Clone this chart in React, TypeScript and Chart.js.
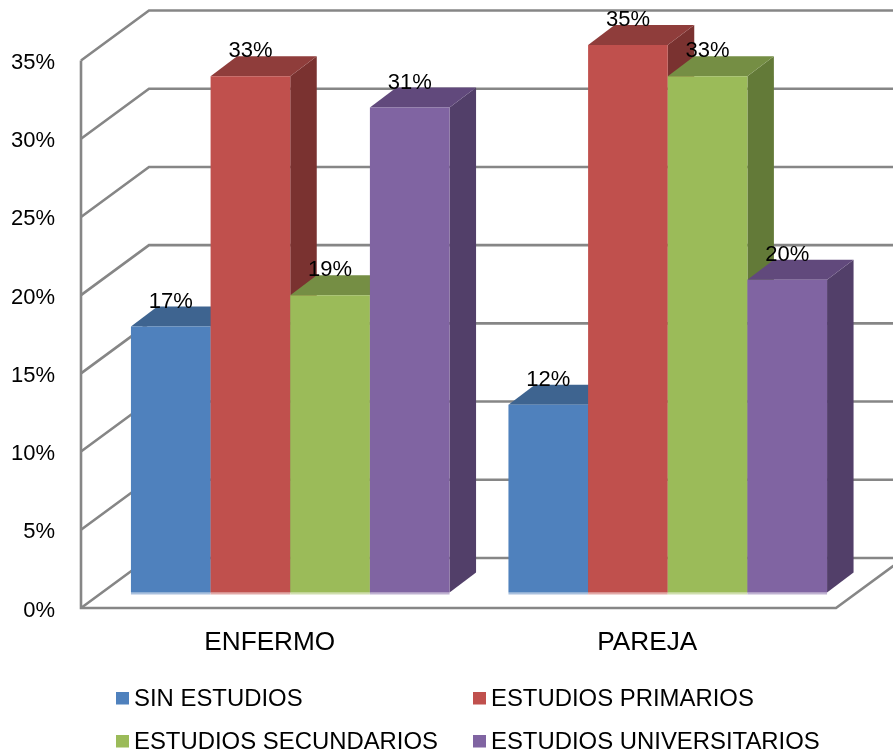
import React, { useEffect, useRef } from "react";
import { Chart, registerables } from "chart.js";

Chart.register(...registerables);

const categories = ["ENFERMO", "PAREJA"];
const seriesNames = [
  "SIN ESTUDIOS",
  "ESTUDIOS PRIMARIOS",
  "ESTUDIOS SECUNDARIOS",
  "ESTUDIOS UNIVERSITARIOS",
];
const sinEstudios = [17, 12];
const primarios = [33, 35];
const secundarios = [19, 33];
const universitarios = [31, 20];
const seriesValues = [sinEstudios, primarios, secundarios, universitarios];

const frontColors = ["#4F81BD", "#C0504D", "#9BBB59", "#8064A2"];
const topColors = ["#3E6490", "#8F3D3B", "#758E44", "#61497C"];
const sideColors = ["#345479", "#7A3230", "#637A38", "#523F69"];
const stripColors = ["#A9C0DE", "#E2A9A7", "#CFDEAD", "#BFB2D1"];

const FONT = "'Liberation Sans', Arial, sans-serif";
const GRID = "#868686";

// Depth of the room and of the bars, and where the bars stand on the floor.
const WALL_DX = 68;
const WALL_DY = 50;
const BAR_DX = 26.5;
const BAR_DY = 20;
const FLOOR_DX = 20.5;
const FLOOR_DY = 15.5;

const drawRoom = (chart: any) => {
  const { ctx, chartArea, scales, width } = chart;
  const { left, right, bottom } = chartArea;
  const y = scales.y;
  ctx.save();
  ctx.strokeStyle = GRID;
  ctx.lineWidth = 2.6;
  ctx.lineJoin = "miter";
  for (const tick of y.ticks) {
    const py = y.getPixelForValue(tick.value);
    ctx.beginPath();
    ctx.moveTo(left, py);
    ctx.lineTo(left + WALL_DX, py - WALL_DY);
    ctx.lineTo(width, py - WALL_DY);
    ctx.stroke();
  }
  ctx.beginPath();
  ctx.moveTo(left, y.getPixelForValue(y.max));
  ctx.lineTo(left, bottom);
  ctx.lineTo(right, bottom);
  ctx.lineTo(right + WALL_DX, bottom - WALL_DY);
  ctx.stroke();
  ctx.restore();
};

const polygon = (ctx: any, pts: number[][], fill: string) => {
  ctx.fillStyle = fill;
  ctx.beginPath();
  pts.forEach(([x, y], i) => (i ? ctx.lineTo(x, y) : ctx.moveTo(x, y)));
  ctx.closePath();
  ctx.fill();
};

const bars3d = {
  id: "bars3d",
  // Painted left to right so each front face covers its neighbour's side.
  beforeDatasetsDraw(chart: any) {
    const { ctx } = chart;
    drawRoom(chart);
    ctx.save();
    ctx.translate(FLOOR_DX, -FLOOR_DY);
    chart.data.datasets.forEach((_: any, i: number) => {
      const meta = chart.getDatasetMeta(i);
      meta.data.forEach((bar: any) => {
        const { x, y, base, width } = bar.getProps(["x", "y", "base", "width"]);
        const l = x - width / 2;
        const r = x + width / 2;
        polygon(ctx, [[r, y], [r + BAR_DX, y - BAR_DY], [r + BAR_DX, base - BAR_DY], [r, base]], sideColors[i]);
        polygon(ctx, [[l, y], [l + BAR_DX, y - BAR_DY], [r + BAR_DX, y - BAR_DY], [r, y]], topColors[i]);
        ctx.fillStyle = stripColors[i];
        ctx.fillRect(l, base, width, 2);
        bar.draw(ctx);
      });
    });
    ctx.fillStyle = "#000";
    ctx.font = `22px ${FONT}`;
    ctx.textAlign = "center";
    ctx.textBaseline = "middle";
    chart.data.datasets.forEach((ds: any, i: number) => {
      chart.getDatasetMeta(i).data.forEach((bar: any, j: number) => {
        const { x, y } = bar.getProps(["x", "y"]);
        ctx.fillText(`${ds.data[j]}%`, x, y - 25);
      });
    });
    ctx.restore();
    return false;
  },
  afterDraw(chart: any) {
    const { ctx } = chart;
    const columns = [116, 473];
    const rows = [698, 741];
    ctx.save();
    ctx.font = `23.9px ${FONT}`;
    ctx.textBaseline = "middle";
    ctx.textAlign = "left";
    chart.data.datasets.forEach((ds: any, i: number) => {
      const x = columns[i % 2];
      const y = rows[Math.floor(i / 2)];
      ctx.fillStyle = ds.backgroundColor;
      ctx.fillRect(x, y - 6, 13, 12.5);
      ctx.fillStyle = "#000";
      ctx.fillText(ds.label, x + 18, y + 1);
    });
    ctx.restore();
  },
};

export default function App() {
  const ref = useRef<HTMLCanvasElement>(null);
  useEffect(() => {
    const chart = new Chart(ref.current!, {
      type: "bar",
      plugins: [bars3d],
      data: {
        labels: categories,
        datasets: seriesNames.map((label, i) => ({
          label,
          data: seriesValues[i],
          backgroundColor: frontColors[i],
          borderWidth: 0,
          barPercentage: 1,
          categoryPercentage: 0.844,
        })),
      },
      options: {
        responsive: false,
        animation: false,
        layout: { padding: { top: 60.5, right: 57, bottom: 0, left: 0 } },
        plugins: { legend: { display: false }, tooltip: { enabled: false } },
        scales: {
          x: {
            afterFit: (s: any) => { s.height = 147; },
            grid: { display: false },
            border: { display: false },
            ticks: { color: "#000", padding: 11, font: { family: FONT, size: 26.2 }, maxRotation: 0 },
          },
          y: {
            min: 0,
            max: 35,
            afterFit: (s: any) => { s.width = 81; },
            grid: { display: false },
            border: { display: false },
            ticks: {
              stepSize: 5,
              color: "#000",
              padding: 18,
              labelOffset: 2.5,
              font: { family: FONT, size: 22 },
              callback: (v: any) => `${v}%`,
            },
          },
        },
      },
    } as any);
    return () => chart.destroy();
  }, []);
  return (
    <div style={{ position: "absolute", left: 0, top: 0, width: 893, height: 755 }}>
      <canvas ref={ref} width={893} height={755} style={{ display: "block" }} />
    </div>
  );
}
